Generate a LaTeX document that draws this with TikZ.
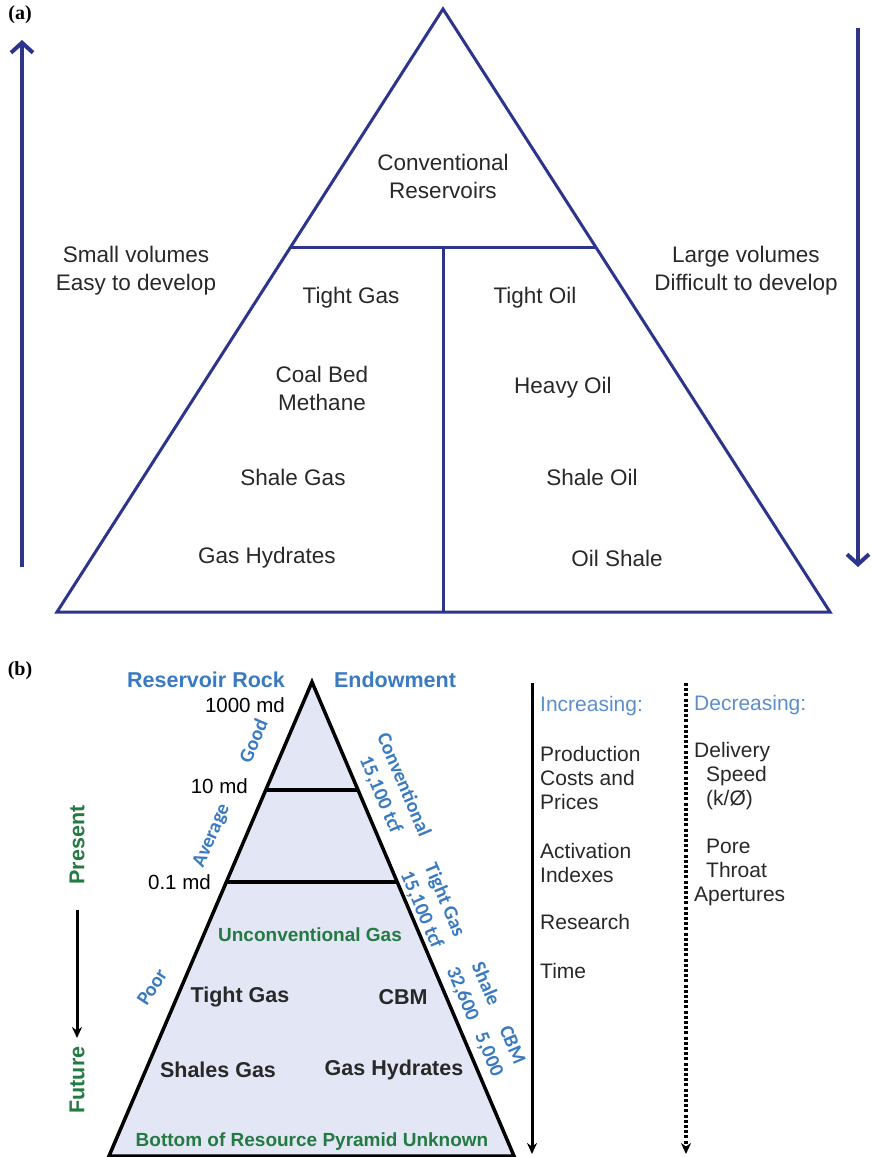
\documentclass[tikz,border=0pt]{standalone}
\usepackage{fontspec}
\setmainfont{Liberation Sans}
\newfontfamily\labelfont{Liberation Serif}
\newfontfamily\sidefont{Carlito}
\usetikzlibrary{arrows.meta,calc}
\definecolor{navy}{RGB}{44,52,140}
\definecolor{rockblue}{RGB}{58,122,192}
\definecolor{softblue}{RGB}{92,142,204}
\definecolor{deepgreen}{RGB}{36,122,66}
\definecolor{pyrfill}{RGB}{226,230,245}
\definecolor{inkgray}{RGB}{40,40,40}
\tikzset{tri/.style={draw=navy,line width=3pt,line join=miter},
         bigarrow/.style={draw=navy,line width=4pt,-{Straight Barb[length=10pt,width=22pt]}},
         pyr/.style={draw=black,line width=3.5pt,line join=miter},
         trend/.style={line width=3pt,-{Stealth[length=11pt,width=10pt]}},
         txt/.style={font=\fontsize{22.5}{28}\selectfont,align=center,inner sep=0pt,text=inkgray},
         head/.style={font=\bfseries\fontsize{21.5}{24}\selectfont,text=rockblue,inner sep=0pt},
         perm/.style={font=\fontsize{20.5}{24}\selectfont,inner sep=0pt,anchor=east},
         side/.style={font=\sidefont\bfseries\fontsize{20}{25}\selectfont,text=rockblue,align=center,inner sep=0pt},
         gas/.style={font=\bfseries\fontsize{21.5}{24}\selectfont,text=inkgray,inner sep=0pt},
         note/.style={font=\bfseries\fontsize{19}{22}\selectfont,text=deepgreen,inner sep=0pt},
         era/.style={font=\bfseries\fontsize{21.5}{24}\selectfont,text=deepgreen,inner sep=0pt,rotate=90},
         col/.style={font=\fontsize{21}{24}\selectfont,align=left,inner sep=0pt,anchor=north west,text=inkgray},
         colhead/.style={font=\fontsize{21}{24}\selectfont,text=softblue,inner sep=0pt,anchor=west},
         panel/.style={font=\labelfont\bfseries\fontsize{20}{24}\selectfont,inner sep=0pt}}
\begin{document}
\begin{tikzpicture}[x=1pt,y=-1pt]
\useasboundingbox (0,0) rectangle (871,1157);
% (a) resource triangle
\node[panel] (pa) at (20,15) {(a)};
\coordinate (A) at (443,9);
\coordinate (BL) at (57,612);
\coordinate (BR) at (830,612);
\coordinate (ML) at ($(A)!0.396!(BL)$);
\coordinate (MR) at ($(A)!0.396!(BR)$);
\coordinate (MC) at (443,248);
\coordinate (BC) at (443,612);
\draw[tri] (A) -- (BL) -- (BR) -- cycle;
\draw[tri] (ML) -- (MR) (MC) -- (BC);
\coordinate (upS) at (22,567);
\coordinate (upE) at (22,40);
\coordinate (dnS) at (858,28);
\coordinate (dnE) at (858,567);
\draw[bigarrow] (upS) -- (upE);
\draw[bigarrow] (dnS) -- (dnE);
\node[txt] (conv) at (443,176) {Conventional\\Reservoirs};
\node[txt] (small) at (136,271) {Small volumes\\Easy to develop};
\node[txt] (large) at (746,271) {Large volumes\\Difficult to develop};
\node[txt] (tgas) at (351,298) {Tight Gas};
\node[txt] (toil) at (535,298) {Tight Oil};
\node[txt] (cbm) at (322,388) {Coal Bed\\Methane};
\node[txt] (hoil) at (563,388) {Heavy Oil};
\node[txt] (sgas) at (293,477) {Shale Gas};
\node[txt] (soil) at (592,477) {Shale Oil};
\node[txt] (hyd) at (267,558) {Gas Hydrates};
\node[txt] (oshale) at (617,558) {Oil Shale};
% (b) reservoir rock pyramid
\node[panel] (pb) at (20,671) {(b)};
\coordinate (P) at (312,682);
\coordinate (PL) at (109,1156);
\coordinate (PR) at (514,1156);
\coordinate (G1) at ($(P)!0.228!(PL)$);
\coordinate (G2) at ($(P)!0.228!(PR)$);
\coordinate (A1) at ($(P)!0.422!(PL)$);
\coordinate (A2) at ($(P)!0.422!(PR)$);
\fill[pyrfill] (P) -- (PL) -- (PR) -- cycle;
\draw[pyr] (P) -- (PL) -- (PR) -- cycle;
\draw[pyr] (G1) -- (G2) (A1) -- (A2);
\node[head] (rock) at (206,680) {Reservoir Rock};
\node[head] (endow) at (395,680) {Endowment};
\node[perm] (p1000) at (285,705) {1000 md};
\node[perm] (p10) at (248,786) {10 md};
\node[perm] (p01) at (211,882) {0.1 md};
\node[side,rotate=66.8] (good) at (253,741) {Good};
\node[side,rotate=66.8] (avg) at (212,836) {Average};
\node[side,rotate=57] (poor) at (152,987) {Poor};
\node[side,rotate=-67] (sconv) at (392,790) {Conventional\\15,100 tcf};
\node[side,rotate=-67] (stight) at (433,905) {Tight Gas\\15,100 tcf};
\node[side,rotate=-67] (sshale) at (474,989) {Shale\\32,600};
\node[side,rotate=-67] (scbm) at (500,1050) {CBM\\5,000};
\node[note] (uncon) at (310,935) {Unconventional Gas};
\node[gas] (btight) at (240,997) {Tight Gas};
\node[gas] (bcbm) at (403,997) {CBM};
\node[gas] (bshale) at (218,1070) {Shales Gas};
\node[gas] (bhyd) at (394,1070) {Gas Hydrates};
\node[note] (bottom) at (312,1142) {Bottom of Resource Pyramid Unknown};
\node[era] (present) at (77,845) {Present};
\node[era] (future) at (77,1080) {Future};
\coordinate (tS) at (77,910);
\coordinate (tE) at (77,1038);
\draw[trend] (tS) -- (tE);
% (b) trend columns
\coordinate (incT) at (532,683);
\coordinate (incB) at (532,1154);
\coordinate (decT) at (686,683);
\coordinate (decB) at (686,1154);
\draw[trend] (incT) -- (incB);
\draw[trend,line width=3.5pt,dash pattern=on 3pt off 2.2pt] (decT) -- (decB);
\node[colhead] (inc) at (540,706) {Increasing:};
\node[col] (costs) at (540,746) {Production\\Costs and\\Prices};
\node[col] (act) at (540,843) {Activation\\Indexes};
\node[col] (res) at (540,914) {Research};
\node[col] (time) at (540,963) {Time};
\node[colhead] (dec) at (694,705) {Decreasing:};
\node[col] (deliv) at (694,742) {Delivery\\\hspace*{12pt}Speed\\\hspace*{12pt}(k/Ø)};
\node[col] (pore) at (694,839) {\hspace*{12pt}Pore\\\hspace*{12pt}Throat\\Apertures};
\end{tikzpicture}
\end{document}
